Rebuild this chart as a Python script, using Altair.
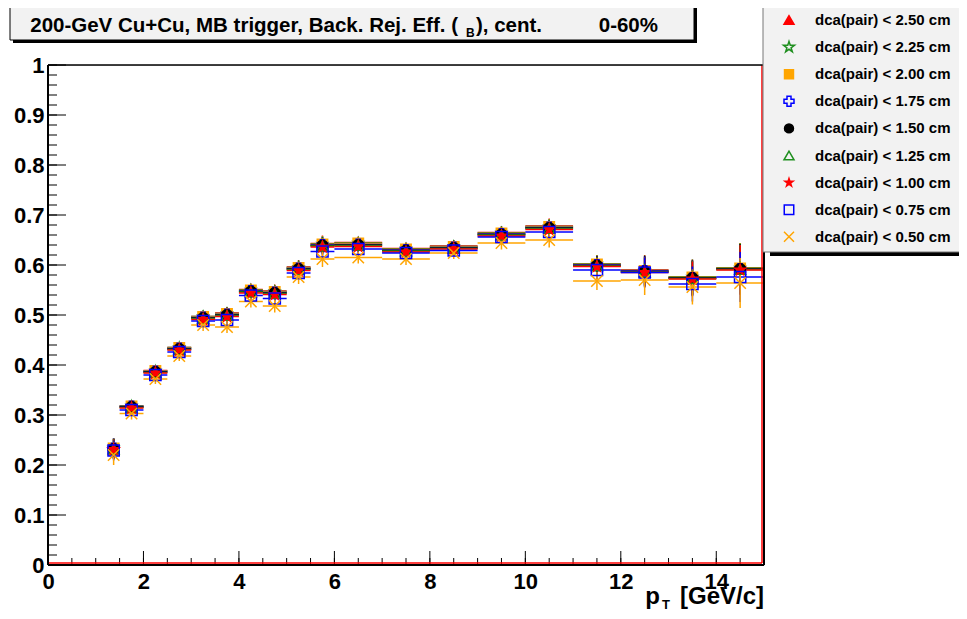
import altair as alt
import pandas as pd

# ---------------- data ----------------
labels = ["dca(pair) < 2.50 cm", "dca(pair) < 2.25 cm", "dca(pair) < 2.00 cm",
          "dca(pair) < 1.75 cm", "dca(pair) < 1.50 cm", "dca(pair) < 1.25 cm",
          "dca(pair) < 1.00 cm", "dca(pair) < 0.75 cm", "dca(pair) < 0.50 cm"]

pt_lo = [1.25, 1.5, 2.0, 2.5, 3.0, 3.5, 4.0, 4.5, 5.0, 5.5, 6, 7, 8, 9, 10, 11, 12, 13, 14]
pt_hi = [1.5, 2.0, 2.5, 3.0, 3.5, 4.0, 4.5, 5.0, 5.5, 6.0, 7, 8, 9, 10, 11, 12, 13, 14, 15]

eff_250 = [0.234, 0.318, 0.389, 0.435, 0.497, 0.504, 0.551, 0.548, 0.596, 0.643, 0.645, 0.633, 0.638, 0.665, 0.678, 0.602, 0.590, 0.576, 0.594]
eff_225 = [0.234, 0.318, 0.388, 0.435, 0.497, 0.503, 0.550, 0.547, 0.595, 0.642, 0.644, 0.632, 0.637, 0.664, 0.677, 0.602, 0.589, 0.576, 0.594]
eff_200 = [0.233, 0.317, 0.388, 0.434, 0.496, 0.502, 0.549, 0.546, 0.594, 0.641, 0.643, 0.631, 0.636, 0.663, 0.676, 0.601, 0.588, 0.575, 0.593]
eff_175 = [0.233, 0.317, 0.387, 0.433, 0.495, 0.501, 0.548, 0.545, 0.593, 0.640, 0.641, 0.630, 0.635, 0.662, 0.675, 0.600, 0.588, 0.574, 0.592]
eff_150 = [0.232, 0.316, 0.386, 0.432, 0.494, 0.500, 0.547, 0.544, 0.592, 0.639, 0.640, 0.629, 0.634, 0.661, 0.674, 0.599, 0.587, 0.574, 0.592]
eff_125 = [0.232, 0.315, 0.385, 0.431, 0.493, 0.499, 0.546, 0.543, 0.591, 0.638, 0.639, 0.628, 0.633, 0.660, 0.673, 0.598, 0.586, 0.573, 0.591]
eff_100 = [0.231, 0.314, 0.384, 0.430, 0.491, 0.497, 0.544, 0.541, 0.589, 0.636, 0.637, 0.626, 0.632, 0.658, 0.671, 0.597, 0.585, 0.572, 0.590]
eff_075 = [0.229, 0.310, 0.380, 0.426, 0.488, 0.490, 0.539, 0.533, 0.584, 0.627, 0.632, 0.624, 0.629, 0.656, 0.666, 0.590, 0.585, 0.562, 0.576]
eff_050 = [0.220, 0.303, 0.372, 0.418, 0.480, 0.476, 0.527, 0.518, 0.576, 0.612, 0.615, 0.612, 0.624, 0.644, 0.650, 0.568, 0.570, 0.556, 0.564]
eff_err = [0.020, 0.012, 0.010, 0.010, 0.012, 0.012, 0.012, 0.013, 0.014, 0.016, 0.012, 0.012, 0.012, 0.013, 0.015, 0.018, 0.030, 0.035, 0.050]

series_vals = [eff_250, eff_225, eff_200, eff_175, eff_150, eff_125, eff_100, eff_075, eff_050]

colors = ["#ff0000", "#1f8f1f", "#ffa500", "#0000ff", "#000000", "#1f8f1f", "#ff0000", "#0000ff", "#ffa500"]
fills = ["#ff0000", "transparent", "#ffa500", "transparent", "#000000", "transparent", "#ff0000", "transparent", "transparent"]
STAR = "M0,-1L0.2245,-0.309L0.951,-0.309L0.363,0.118L0.588,0.809L0,0.382L-0.588,0.809L-0.363,0.118L-0.951,-0.309L-0.2245,-0.309Z"
XMARK = "M-1,-1L1,1M-1,1L1,-1"
shapes = ["triangle-up", STAR, "square", "cross", "circle", "triangle-up", STAR, "square", XMARK]
sizes = [100, 130, 80, 100, 80, 100, 70, 90, 100]

x_major = [0, 2, 4, 6, 8, 10, 12, 14]
x_minor = [i * 0.5 for i in range(31)]
y_major = [i / 10 for i in range(11)]
y_minor = [i / 50 for i in range(51)]

rows = []
for i, (lab, vals) in enumerate(zip(labels, series_vals)):
    for lo, hi, v, e in zip(pt_lo, pt_hi, vals, eff_err):
        rows.append({"label": lab, "ord": i, "lo": lo, "hi": hi, "x": (lo + hi) / 2,
                     "v": v, "vlo": v - e, "vhi": v + e})
df = pd.DataFrame(rows)

# ---------------- layout ----------------
W, H = 716, 500
FONT = "Liberation Sans"

xs = alt.Scale(domain=[0, 15], nice=False, zero=False)
ys = alt.Scale(domain=[0, 1], nice=False, zero=False)
xaxis = alt.Axis(values=x_major, ticks=False, domain=False, grid=False, title=None,
                 labelFont=FONT, labelFontSize=22, labelFontWeight="bold", labelColor="black",
                 labelPadding=6, labelFlush=False, format="d")
yaxis = alt.Axis(values=y_major, ticks=False, domain=False, grid=False, title=None,
                 labelFont=FONT, labelFontSize=22, labelFontWeight="bold", labelColor="black",
                 labelPadding=4, labelFlush=False, format=".1~f")

cscale = alt.Scale(domain=labels, range=colors)

hbar = alt.Chart(df).mark_rule(strokeWidth=1.5).encode(
    x=alt.X("lo:Q", scale=xs, axis=xaxis), x2="hi:Q",
    y=alt.Y("v:Q", scale=ys, axis=yaxis),
    color=alt.Color("label:N", scale=cscale, legend=None))

vbar = alt.Chart(df).mark_rule(strokeWidth=1.5).encode(
    x=alt.X("x:Q", scale=xs, axis=xaxis),
    y=alt.Y("vlo:Q", scale=ys, axis=yaxis), y2="vhi:Q",
    color=alt.Color("label:N", scale=cscale, legend=None))

pts = alt.Chart(df).mark_point(opacity=1, strokeWidth=1.5).encode(
    x=alt.X("x:Q", scale=xs, axis=xaxis),
    y=alt.Y("v:Q", scale=ys, axis=yaxis),
    shape=alt.Shape("label:N", scale=alt.Scale(domain=labels, range=shapes), legend=None),
    stroke=alt.Stroke("label:N", scale=alt.Scale(domain=labels, range=colors), legend=None),
    fill=alt.Fill("label:N", scale=alt.Scale(domain=labels, range=fills), legend=None),
    size=alt.Size("label:N", scale=alt.Scale(domain=labels, range=sizes), legend=None),
    order=alt.Order("ord:Q"),
)

# inward ticks
def tick_layer(vals, horizontal, length):
    d = pd.DataFrame({"t": vals})
    if horizontal:  # y-axis ticks
        return alt.Chart(d).mark_rule(color="black", strokeWidth=1).encode(
            y=alt.Y("t:Q", scale=ys, axis=yaxis), x=alt.value(0), x2=alt.value(length))
    return alt.Chart(d).mark_rule(color="black", strokeWidth=1).encode(
        x=alt.X("t:Q", scale=xs, axis=xaxis), y=alt.value(H), y2=alt.value(H - length))

ticks = [tick_layer(y_minor, True, 9), tick_layer(y_major, True, 18),
         tick_layer(x_minor, False, 7), tick_layer(x_major, False, 14)]

one = pd.DataFrame({"a": [0]})

def box(x1, x2, y1, y2, fill, stroke=None, sw=0):
    kw = dict(fill=fill)
    if stroke:
        kw.update(stroke=stroke, strokeWidth=sw)
    return alt.Chart(one).mark_rect(**kw).encode(
        x=alt.value(x1), x2=alt.value(x2), y=alt.value(y1), y2=alt.value(y2))

def line(x1, x2, y1, y2, color, sw):
    return alt.Chart(one).mark_rule(color=color, strokeWidth=sw).encode(
        x=alt.value(x1), x2=alt.value(x2), y=alt.value(y1), y2=alt.value(y2))

def text(s, x, y, size, align="left", baseline="alphabetic"):
    return alt.Chart(pd.DataFrame({"t": [s]})).mark_text(
        font=FONT, fontSize=size, fontWeight="bold", color="black",
        align=align, baseline=baseline).encode(x=alt.value(x), y=alt.value(y), text="t:N")

# frame: red histogram edges + black frame
frame = [
    line(0, W - 2, H - 2, H - 2, "#ff0000", 1.5),
    line(W - 2, W - 2, 0, H - 2, "#ff0000", 1.5),
    line(0, W, 0, 0, "black", 1.5),
    line(0, 0, 0, H, "black", 2),
    line(0, W, H, H, "black", 2),
    line(W, W, 0, H, "black", 2),
]

# title box
title_layers = [
    box(-35, 649, -57, -22, "black"),
    box(-38, 646, -60, -25, "#f2f2f2", "black", 1),
    text("200-GeV Cu+Cu, MB trigger, Back. Rej. Eff. (", 410, -33, 20.5, align="right"),
    text("B", 418, -28, 12),
    text("), cent.", 428, -33, 20.5),
    text("0-60%", 610, -33, 20.5, align="right"),
]

# legend box + entries
legend_layers = [
    box(722, 960, 186, 191, "black"),
    box(715, 960, -61, 187, "#f2f2f2", "#777777", 1),
]
for i, lab in enumerate(labels):
    yy = -45 + 27.1 * i
    legend_layers.append(
        alt.Chart(one).mark_point(opacity=1, strokeWidth=1.5).encode(
            x=alt.value(741), y=alt.value(yy), shape=alt.value(shapes[i]),
            fill=alt.value(fills[i]), stroke=alt.value(colors[i]), size=alt.value(sizes[i])))
    legend_layers.append(text(lab, 767, yy, 15, baseline="middle"))

# x axis title
xtitle = [
    text("[GeV/c]", W, 539, 24, align="right"),
    text("p", 612, 539, 24, align="right"),
    text("T", 614, 544, 13),
]

chart = alt.layer(
    *title_layers,
    hbar, vbar, pts, *ticks, *frame, *legend_layers, *xtitle,
).properties(
    width=W, height=H,
    autosize=alt.AutoSizeParams(type="none"),
    padding={"left": 40, "top": 57, "right": 195, "bottom": 46},
).configure_view(stroke=None).configure(background="white")

chart.save("out.html", embed_options={"renderer": "svg", "actions": False})
